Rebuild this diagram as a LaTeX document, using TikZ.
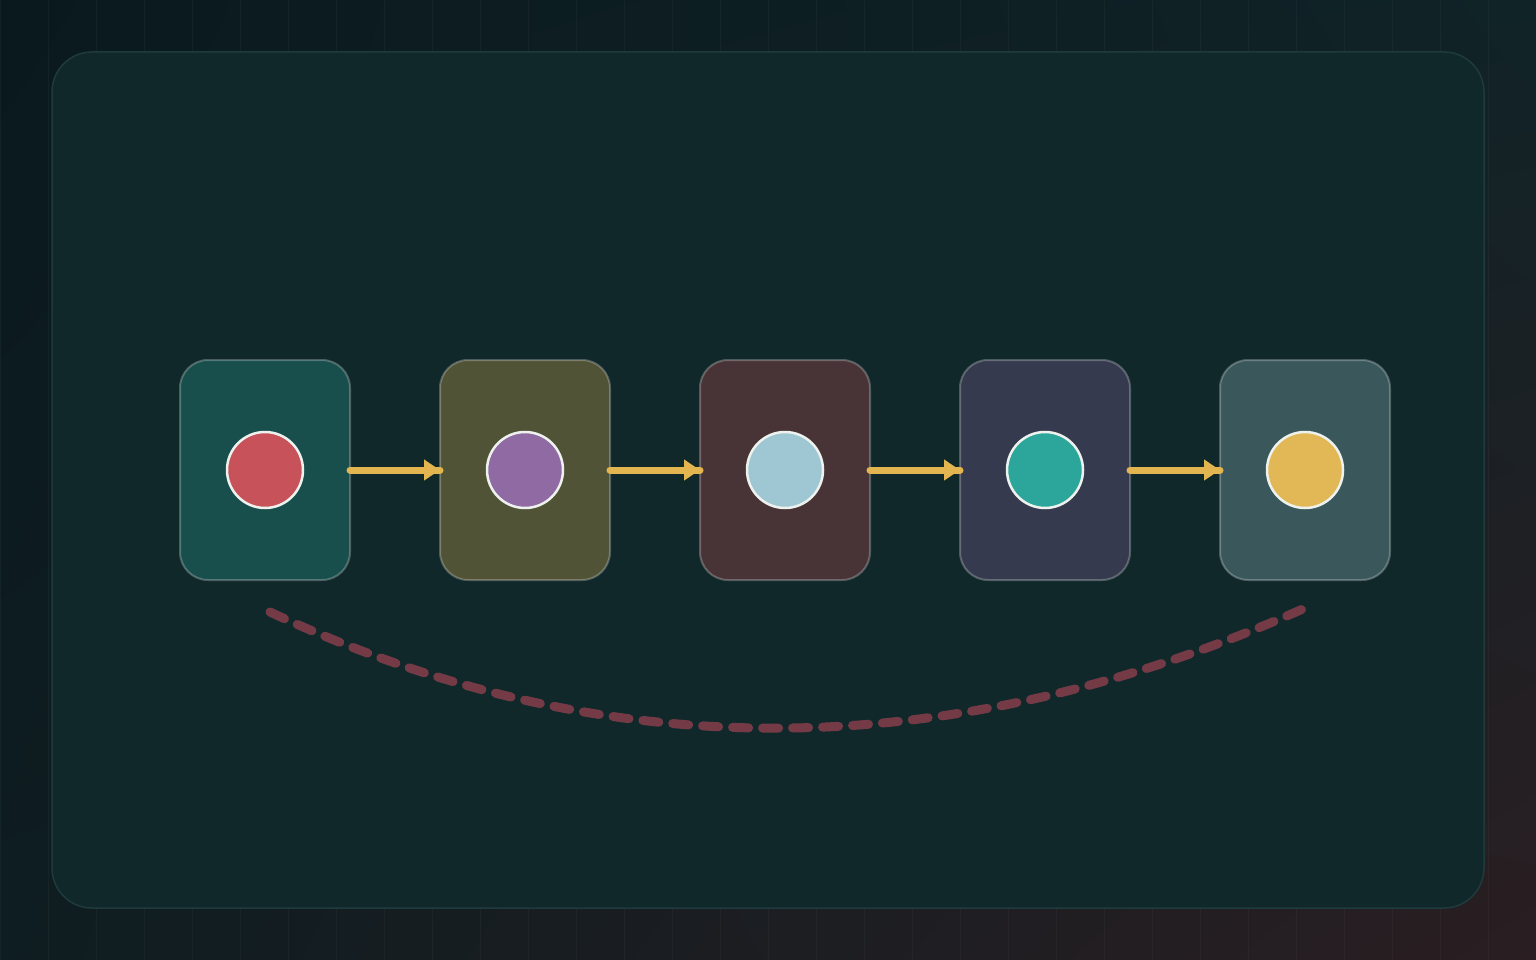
\documentclass[tikz,border=0pt]{standalone}
\usetikzlibrary{arrows.meta,calc,shadings}
\definecolor{bgA}{HTML}{0A191E}
\definecolor{bgB}{HTML}{102327}
\definecolor{bgC}{HTML}{0E1D21}
\definecolor{bgD}{HTML}{2A1E22}
\definecolor{panelfill}{HTML}{11282B}
\definecolor{panelline}{HTML}{1F3A3C}
\definecolor{boxA}{HTML}{184E4C}
\definecolor{boxB}{HTML}{515337}
\definecolor{boxC}{HTML}{483437}
\definecolor{boxD}{HTML}{363A4E}
\definecolor{boxE}{HTML}{3A585C}
\definecolor{dotA}{HTML}{C8525A}
\definecolor{dotB}{HTML}{906AA3}
\definecolor{dotC}{HTML}{9FC7D3}
\definecolor{dotD}{HTML}{2CA69A}
\definecolor{dotE}{HTML}{E2B755}
\definecolor{dotline}{HTML}{EEF2EE}
\definecolor{flowcol}{HTML}{E2B550}
\definecolor{linkcol}{HTML}{743B46}
\tikzset{
  stagebox/.style={draw=white, draw opacity=0.25, line width=2pt, rounded corners=28pt,
    minimum width=170pt, minimum height=220pt, inner sep=0pt, outer sep=0pt},
  stagedot/.style={circle, draw=dotline, line width=2.5pt, minimum size=76pt, inner sep=0pt},
  flowline/.style={draw=flowcol, line width=7pt, line cap=round},
  flowtip/.style={draw=flowcol, line width=7pt, -{Triangle[length=16pt,width=20pt]}},
  linkcurve/.style={draw=linkcol, line width=9pt, line cap=round, dash pattern=on 16pt off 14pt},
  gridline/.style={draw=white, draw opacity=0.035, line width=1pt}
}
\begin{document}
\begin{tikzpicture}[x=1pt,y=-1pt]
\useasboundingbox (0,0) rectangle (1536,960);
\shade[upper left=bgA, upper right=bgB, lower left=bgC, lower right=bgD] (0,0) rectangle (1536,960);
\draw[gridline] (0,0) grid[step=48] (1536,960);
\draw[fill=panelfill, draw=panelline, line width=1.5pt, rounded corners=40pt] (52,52) rectangle (1484,908);

\node[stagebox, fill=boxA] (b1) at (265,470) {};
\node[stagebox, fill=boxB] (b2) at (525,470) {};
\node[stagebox, fill=boxC] (b3) at (785,470) {};
\node[stagebox, fill=boxD] (b4) at (1045,470) {};
\node[stagebox, fill=boxE] (b5) at (1305,470) {};

\node[stagedot, fill=dotA] (c1) at (b1.center) {};
\node[stagedot, fill=dotB] (c2) at (b2.center) {};
\node[stagedot, fill=dotC] (c3) at (b3.center) {};
\node[stagedot, fill=dotD] (c4) at (b4.center) {};
\node[stagedot, fill=dotE] (c5) at (b5.center) {};

\foreach \a/\b in {b1/b2,b2/b3,b3/b4,b4/b5}{
  \draw[flowline] (\a.east) -- (\b.west);
  \draw[flowtip] (\a.east) -- (\b.west);
}

\coordinate (ls) at (270,612);
\coordinate (le) at (1305,608);
\draw[linkcurve] (ls) .. controls (603,768) and (948,767) .. (le);
\end{tikzpicture}
\end{document}
